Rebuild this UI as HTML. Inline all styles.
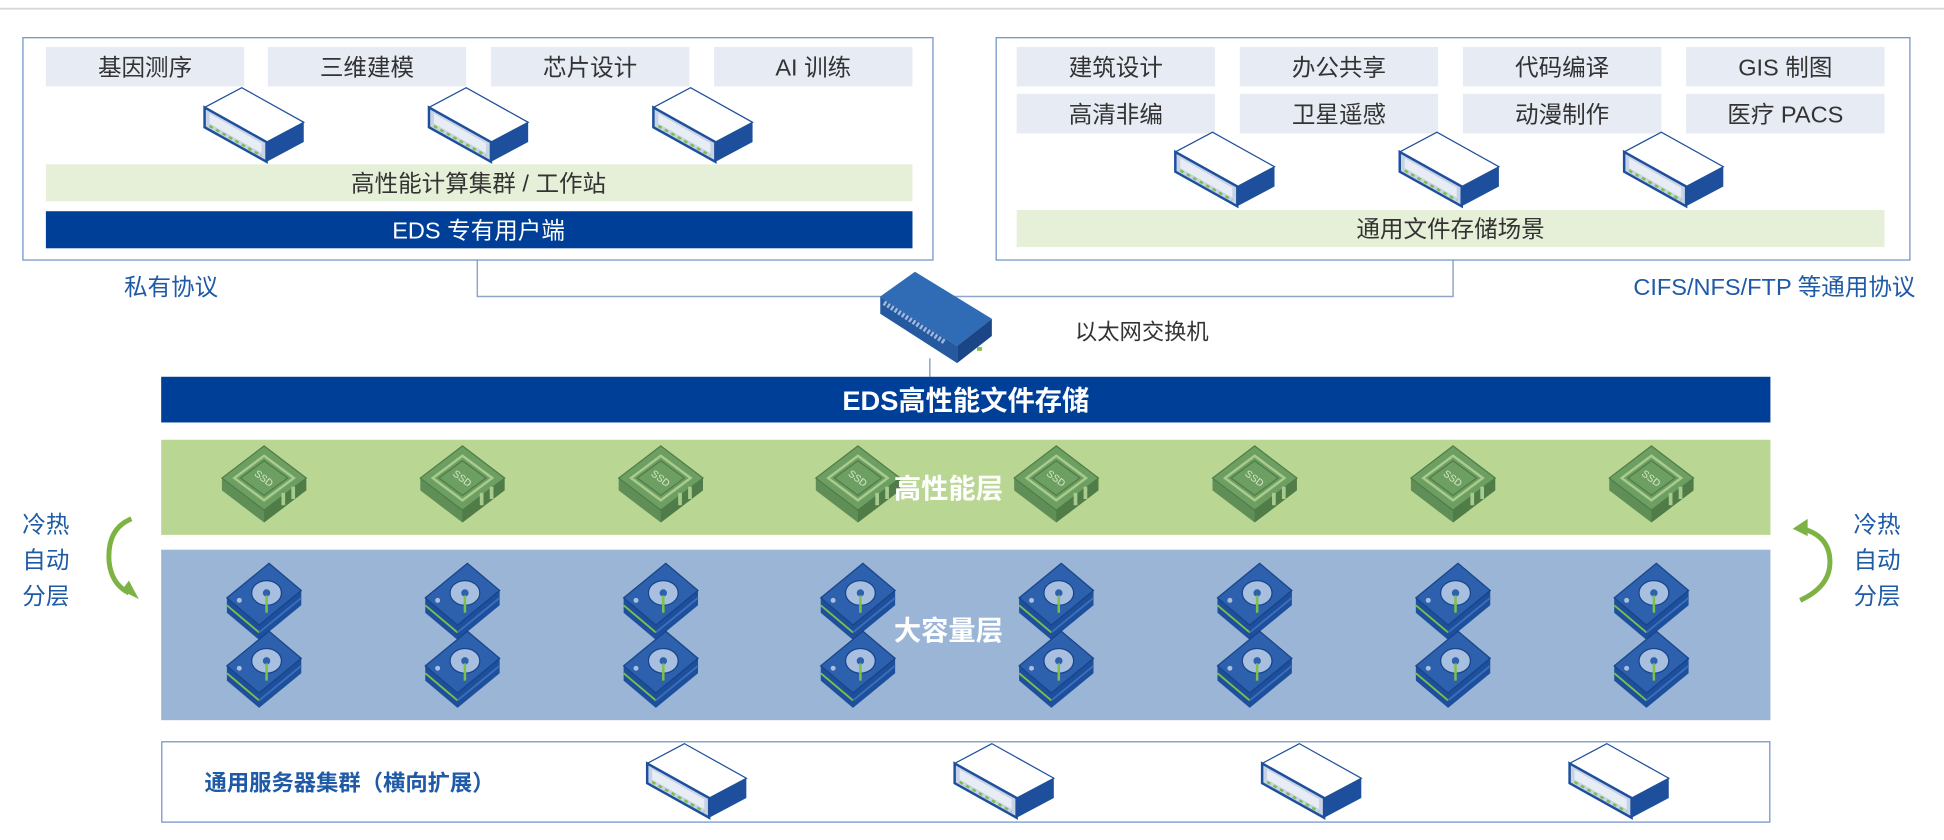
<!DOCTYPE html>
<html><head><meta charset="utf-8"><style>
html,body{margin:0;padding:0;background:#fff;}
svg{display:block;}
text{font-family:"Liberation Sans","Noto Sans CJK SC",sans-serif;}
</style></head><body>
<svg width="1944" height="840" viewBox="0 0 1568 680" preserveAspectRatio="none" xmlns="http://www.w3.org/2000/svg">
<defs>
<g id="srv">
  <polygon points="-40,-10 -10,-26 40,2 10,18" fill="#fff" stroke="#1d4f9c" stroke-width="1"/>
  <polygon points="-40,-10 10,18 10,34 -40,6" fill="#c7d2e6" stroke="#1d4f9c" stroke-width="2"/>
  <polygon points="-36,-5 6,19 6,27 -36,3" fill="#e7ecf5"/>
  <polygon points="10,18 40,2 40,18 10,34" fill="#1d4f9c"/>
  <line x1="-36" y1="5" x2="6" y2="29" stroke="#7cc04a" stroke-width="2" stroke-dasharray="3 3"/>
</g>
<g id="ssd">
  <polygon points="-34,0 0,-26 34,0 34,10 0,36 -34,10" fill="#5f8f56"/>
  <polygon points="-34,0 0,-26 34,0 0,26" fill="#6e9f62" stroke="#4f7c47"/>
  <polygon points="-24,0 0,-18 24,0 0,18" fill="none" stroke="#a8cc8e" stroke-width="2"/>
  <polygon points="-19,0 0,-14 19,0 0,14" fill="#6e9f62" stroke="#4f7c47"/>
  <polygon points="0,26 34,0 34,10 0,36" fill="#4f7c47"/>
  <rect x="14" y="12" width="3" height="10" fill="#a8cc8e"/><rect x="22" y="7" width="3" height="10" fill="#a8cc8e"/>
  <text x="0" y="3" font-size="8" fill="#d5e8c5" text-anchor="middle" transform="rotate(37)">SSD</text>
</g>
<g id="hdd">
  <polygon points="-30,6 4,-22 30,0 30,12 -4,40 -30,18" fill="#1d4f9c"/>
  <polygon points="-30,6 4,-22 30,0 -4,28" fill="#2d61ad" stroke="#17448a"/>
  <line x1="-30" y1="12" x2="-4" y2="34" stroke="#7cc04a" stroke-width="1.5"/>
  <line x1="-4" y1="34" x2="30" y2="6" stroke="#3c70ba" stroke-width="1.5"/>
  <ellipse cx="2" cy="2" rx="12" ry="10" fill="#a9bfe0" stroke="#17448a"/>
  <circle cx="2" cy="2" r="3" fill="#2d61ad"/>
  <line x1="2" y1="4" x2="2" y2="18" stroke="#7cc04a" stroke-width="2"/>
  <circle cx="-20" cy="8" r="2" fill="#a9bfe0"/>
</g>
</defs>
<line x1="0" y1="7" x2="1568" y2="7" stroke="#d8d8d8" stroke-width="1.5"/>
<polyline points="385,210 385,240 1172,240 1172,210" fill="none" stroke="#8fa6c8" stroke-width="1.2"/>
<line x1="750" y1="290" x2="750" y2="305" stroke="#8fa6c8" stroke-width="1.2"/>
<rect x="18.5" y="30.5" width="734" height="180" fill="#fff" stroke="#6f93c4"/>
<g font-size="19" fill="#333" text-anchor="middle">
<rect x="37" y="38" width="160" height="32" fill="#e6ebf4"/><text x="117" y="61">基因测序</text>
<rect x="216" y="38" width="160" height="32" fill="#e6ebf4"/><text x="296" y="61">三维建模</text>
<rect x="396" y="38" width="160" height="32" fill="#e6ebf4"/><text x="476" y="61">芯片设计</text>
<rect x="576" y="38" width="160" height="32" fill="#e6ebf4"/><text x="656" y="61">AI 训练</text>
<rect x="37" y="133" width="699" height="30" fill="#e6f0d8"/><text x="386" y="155">高性能计算集群 / 工作站</text>
<rect x="37" y="171" width="699" height="30" fill="#003f98"/><text x="386" y="193" fill="#fff">EDS 专有用户端</text>
</g>
<use href="#srv" x="205" y="97"/><use href="#srv" x="386" y="97"/><use href="#srv" x="567" y="97"/>
<text x="100" y="239" font-size="19" fill="#1f5aa6">私有协议</text>
<rect x="803.5" y="30.5" width="737" height="180" fill="#fff" stroke="#6f93c4"/>
<g font-size="19" fill="#333" text-anchor="middle">
<rect x="820" y="38" width="160" height="32" fill="#e6ebf4"/><text x="900" y="61">建筑设计</text>
<rect x="1000" y="38" width="160" height="32" fill="#e6ebf4"/><text x="1080" y="61">办公共享</text>
<rect x="1180" y="38" width="160" height="32" fill="#e6ebf4"/><text x="1260" y="61">代码编译</text>
<rect x="1360" y="38" width="160" height="32" fill="#e6ebf4"/><text x="1440" y="61">GIS 制图</text>
<rect x="820" y="76" width="160" height="32" fill="#e6ebf4"/><text x="900" y="99">高清非编</text>
<rect x="1000" y="76" width="160" height="32" fill="#e6ebf4"/><text x="1080" y="99">卫星遥感</text>
<rect x="1180" y="76" width="160" height="32" fill="#e6ebf4"/><text x="1260" y="99">动漫制作</text>
<rect x="1360" y="76" width="160" height="32" fill="#e6ebf4"/><text x="1440" y="99">医疗 PACS</text>
<rect x="820" y="170" width="700" height="30" fill="#e6f0d8"/><text x="1170" y="192">通用文件存储场景</text>
</g>
<use href="#srv" x="988" y="133"/><use href="#srv" x="1169" y="133"/><use href="#srv" x="1350" y="133"/>
<text x="1545" y="239" font-size="19" fill="#1f5aa6" text-anchor="end">CIFS/NFS/FTP 等通用协议</text>
<polygon points="710,240 738,220 800,258 772,280" fill="#2f6cb5"/>
<polygon points="710,240 772,280 772,294 710,254" fill="#2559a0"/>
<polygon points="772,280 800,258 800,272 772,294" fill="#1a4688"/>
<line x1="713" y1="245" x2="762" y2="277" stroke="#9cb8e0" stroke-width="4" stroke-dasharray="2 1.5"/>
<rect x="788" y="281" width="4" height="3" fill="#7cc04a"/>
<text x="867" y="275" font-size="18" fill="#333">以太网交换机</text>
<rect x="130" y="305" width="1298" height="37" fill="#003f98"/>
<text x="779" y="332" font-size="22" font-weight="bold" fill="#fff" text-anchor="middle">EDS高性能文件存储</text>
<rect x="130" y="356" width="1298" height="77" fill="#b9d792"/>
<use href="#ssd" x="213" y="387"/><use href="#ssd" x="373" y="387"/><use href="#ssd" x="533" y="387"/><use href="#ssd" x="692" y="387"/>
<use href="#ssd" x="852" y="387"/><use href="#ssd" x="1012" y="387"/><use href="#ssd" x="1172" y="387"/><use href="#ssd" x="1332" y="387"/>
<text x="765" y="403" font-size="22" font-weight="bold" fill="#fff" text-anchor="middle">高性能层</text>
<rect x="130" y="445" width="1298" height="138" fill="#9bb5d6"/>
<use href="#hdd" x="213" y="478"/><use href="#hdd" x="373" y="478"/><use href="#hdd" x="533" y="478"/><use href="#hdd" x="692" y="478"/>
<use href="#hdd" x="852" y="478"/><use href="#hdd" x="1012" y="478"/><use href="#hdd" x="1172" y="478"/><use href="#hdd" x="1332" y="478"/>
<use href="#hdd" x="213" y="533"/><use href="#hdd" x="373" y="533"/><use href="#hdd" x="533" y="533"/><use href="#hdd" x="692" y="533"/>
<use href="#hdd" x="852" y="533"/><use href="#hdd" x="1012" y="533"/><use href="#hdd" x="1172" y="533"/><use href="#hdd" x="1332" y="533"/>
<text x="765" y="518" font-size="22" font-weight="bold" fill="#fff" text-anchor="middle">大容量层</text>
<rect x="130.5" y="600.5" width="1297" height="65" fill="#fff" stroke="#6f93c4"/>
<text x="165" y="640" font-size="18" font-weight="bold" fill="#1f5aa6">通用服务器集群（横向扩展）</text>
<use href="#srv" x="562" y="628"/><use href="#srv" x="810" y="628"/><use href="#srv" x="1058" y="628"/><use href="#srv" x="1306" y="628"/>
<g font-size="19" fill="#1f5aa6">
<text x="18" y="431">冷热</text><text x="18" y="460">自动</text><text x="18" y="489">分层</text>
<text x="1495" y="431">冷热</text><text x="1495" y="460">自动</text><text x="1495" y="489">分层</text>
</g>
<path d="M106,420 Q86,428 88,455 Q90,473 104,480" fill="none" stroke="#7cb342" stroke-width="4"/>
<polygon points="98,478 112,485 104,470" fill="#7cb342"/>
<path d="M1454,428 Q1476,434 1476,455 Q1476,475 1452,486" fill="none" stroke="#7cb342" stroke-width="4"/>
<polygon points="1446,428 1458,420 1458,434" fill="#7cb342"/>
</svg>
</body></html>
